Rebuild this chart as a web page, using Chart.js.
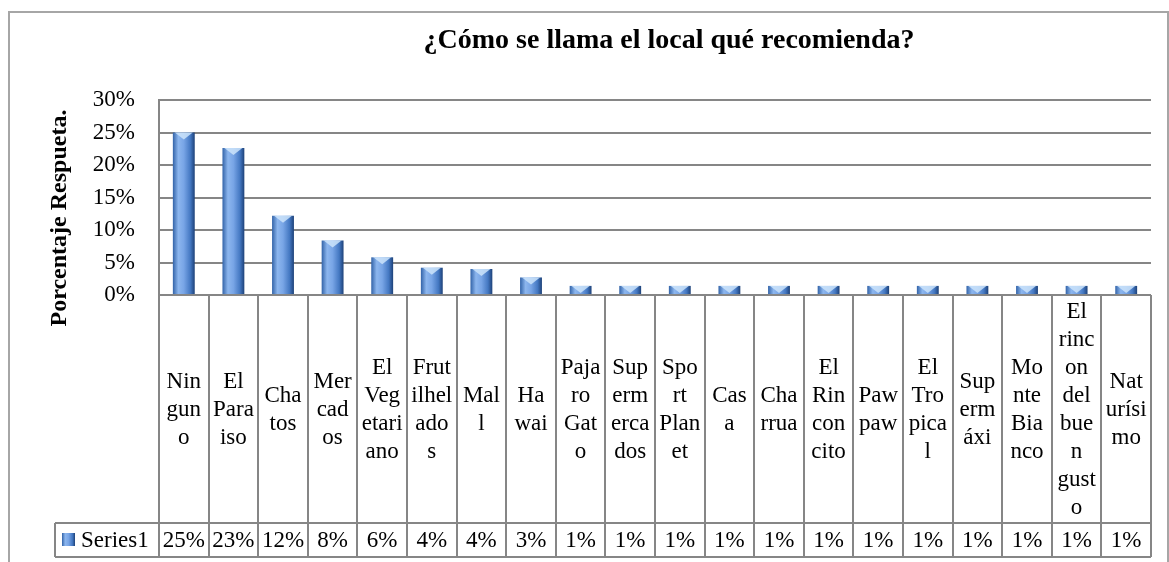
<!DOCTYPE html>
<html>
<head>
<meta charset="utf-8">
<script src="https://cdn.jsdelivr.net/npm/chart.js@4"></script>
<style>
  body { margin: 0; background: #fff; }
  canvas { display: block; }
</style>
</head>
<body>
<canvas id="localChart" width="1169" height="562"></canvas>
<script>
// Categorias (tal como aparecen cortadas en la tabla de datos)
const categories = [
    ['Nin', 'gun', 'o'],
    ['El', 'Para', 'iso'],
    ['Cha', 'tos'],
    ['Mer', 'cad', 'os'],
    ['El', 'Veg', 'etari', 'ano'],
    ['Frut', 'ilhel', 'ado', 's'],
    ['Mal', 'l'],
    ['Ha', 'wai'],
    ['Paja', 'ro', 'Gat', 'o'],
    ['Sup', 'erm', 'erca', 'dos'],
    ['Spo', 'rt', 'Plan', 'et'],
    ['Cas', 'a'],
    ['Cha', 'rrua'],
    ['El', 'Rin', 'con', 'cito'],
    ['Paw', 'paw'],
    ['El', 'Tro', 'pica', 'l'],
    ['Sup', 'erm', 'áxi'],
    ['Mo', 'nte', 'Bia', 'nco'],
    ['El', 'rinc', 'on', 'del', 'bue', 'n', 'gust', 'o'],
    ['Nat', 'urísi', 'mo']
];

// Porcentaje de respuestas (Series1)
const series1 = [25, 22.6, 12.2, 8.4, 5.8, 4.2, 4.0, 2.7, 1.4, 1.4,
                 1.4, 1.4, 1.4, 1.4, 1.4, 1.4, 1.4, 1.4, 1.4, 1.4];

const yTicks = [0, 5, 10, 15, 20, 25, 30];

const chartTitle = '¿Cómo se llama el local qué recomienda?';
const yTitle = 'Porcentaje Respueta.';
const seriesName = 'Series1';

const SERIF = '"Liberation Serif", "Times New Roman", serif';
const GRID = '#868686';
const BAR_FRAC = 0.441;

function barGradient(ctx, x0, x1) {
    const g = ctx.createLinearGradient(x0, 0, x1, 0);
    g.addColorStop(0, '#3263a8');
    g.addColorStop(0.25, '#8cb6ee');
    g.addColorStop(0.5, '#78a5e6');
    g.addColorStop(0.8, '#4478c2');
    g.addColorStop(1, '#1d4178');
    return g;
}

// Marco, titulos, tapas de barras y tabla de datos
const tablePlugin = {
    id: 'tablePlugin',
    afterDatasetsDraw(chart) {
        const ctx = chart.ctx;
        const meta = chart.getDatasetMeta(0);
        ctx.save();
        meta.data.forEach(bar => {
            const w = bar.width;
            const h = bar.base - bar.y;
            const capH = Math.min(7, h);
            const x0 = bar.x - w / 2;
            ctx.fillStyle = 'rgba(205,228,250,0.85)';
            ctx.beginPath();
            ctx.moveTo(x0 + 2, bar.y);
            ctx.lineTo(x0 + w - 2, bar.y);
            ctx.lineTo(bar.x, bar.y + capH);
            ctx.closePath();
            ctx.fill();
        });
        ctx.restore();
    },
    afterDraw(chart) {
        const ctx = chart.ctx;
        const xs = chart.scales.x;
        const area = chart.chartArea;
        const n = categories.length;
        const colW = (area.right - area.left) / n;
        const rowTop = area.bottom;
        const serTop = 523;
        const serBot = 557;
        const legendLeft = 55;

        ctx.save();
        // marco exterior
        ctx.strokeStyle = '#a6a6a6';
        ctx.lineWidth = 2;
        ctx.beginPath();
        ctx.moveTo(9, 562);
        ctx.lineTo(9, 12);
        ctx.lineTo(1168, 12);
        ctx.lineTo(1168, 562);
        ctx.stroke();

        // titulo
        ctx.fillStyle = '#000';
        ctx.font = 'bold 28px ' + SERIF;
        ctx.textAlign = 'center';
        ctx.textBaseline = 'middle';
        ctx.fillText(chartTitle, 669, 41);

        // titulo eje y
        ctx.save();
        ctx.translate(60, 218);
        ctx.rotate(-Math.PI / 2);
        ctx.font = 'bold 24px ' + SERIF;
        ctx.fillText(yTitle, 0, 0);
        ctx.restore();

        // tabla de datos
        ctx.strokeStyle = GRID;
        ctx.lineWidth = 2;
        ctx.beginPath();
        for (let i = 0; i <= n; i++) {
            const x = Math.round(xs.getPixelForValue(i) - colW / 2);
            ctx.moveTo(x, rowTop);
            ctx.lineTo(x, serBot);
        }
        ctx.moveTo(legendLeft, serTop);
        ctx.lineTo(legendLeft, serBot);
        ctx.moveTo(legendLeft, serTop);
        ctx.lineTo(area.right, serTop);
        ctx.moveTo(legendLeft, serBot);
        ctx.lineTo(area.right, serBot);
        ctx.stroke();

        ctx.font = '23px ' + SERIF;
        ctx.textAlign = 'center';
        ctx.textBaseline = 'middle';
        const lineH = 28;
        const midY = (rowTop + serTop) / 2;
        categories.forEach((lines, i) => {
            const cx = xs.getPixelForValue(i);
            const y0 = midY - (lines.length - 1) * lineH / 2;
            lines.forEach((t, k) => ctx.fillText(t, cx, y0 + k * lineH + 1));
            ctx.fillText(Math.round(series1[i]) + '%', cx, (serTop + serBot) / 2 + 1);
        });

        // clave de la serie
        ctx.fillStyle = barGradient(ctx, 62, 75);
        ctx.fillRect(62, 533, 13, 13);
        ctx.fillStyle = '#000';
        ctx.textAlign = 'left';
        ctx.fillText(seriesName, 81, (serTop + serBot) / 2 + 1);
        ctx.restore();
    }
};

const localChart = new Chart(document.getElementById('localChart'), {
    type: 'bar',
    data: {
        labels: categories,
        datasets: [{
            label: seriesName,
            data: series1,
            backgroundColor: (c) => {
                const xs = c.chart.scales.x;
                if (!xs || c.type !== 'data' || xs.width == null) return '#4f81bd';
                const cx = xs.getPixelForValue(c.dataIndex);
                const half = xs.width / categories.length * BAR_FRAC / 2;
                return barGradient(c.chart.ctx, cx - half, cx + half);
            },
            borderWidth: 0,
            barPercentage: 0.9,
            categoryPercentage: BAR_FRAC / 0.9
        }]
    },
    plugins: [tablePlugin],
    options: {
        responsive: false,
        devicePixelRatio: 1,
        animation: false,
        layout: {
            padding: { top: 100, bottom: 267, left: 0, right: 18 }
        },
        plugins: {
            legend: { display: false },
            tooltip: { enabled: false }
        },
        scales: {
            x: { display: false },
            y: {
                min: 0,
                max: 30,
                afterFit: (scale) => { scale.width = 159; },
                afterBuildTicks: (scale) => { scale.ticks = yTicks.map(v => ({ value: v })); },
                grid: { color: GRID, lineWidth: 2, drawTicks: false },
                border: { color: GRID, width: 2 },
                ticks: {
                    padding: 24,
                    color: '#000',
                    font: { family: SERIF, size: 23 },
                    callback: (v) => v + '%'
                }
            }
        }
    }
});
</script>
</body>
</html>
